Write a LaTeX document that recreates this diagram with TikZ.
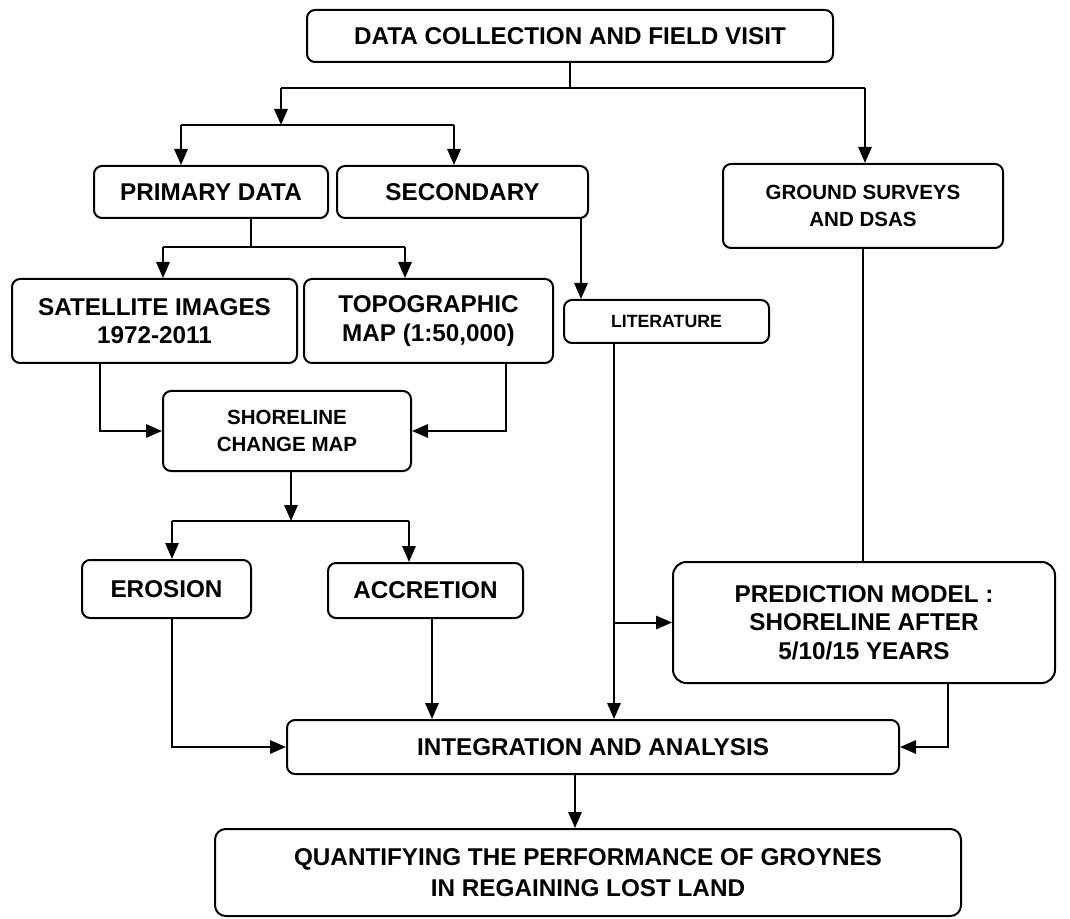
\documentclass[tikz,border=0pt]{standalone}
\usepackage{fontspec}
\setmainfont{Liberation Sans}
\usepackage{tikz}
\usetikzlibrary{arrows.meta}

\begin{document}
\begin{tikzpicture}[x=0.75pt,y=-0.75pt,->,>={Triangle[length=12pt,width=10pt]},line width=1.5pt,
		main node/.style={rectangle,rounded corners=6pt,draw,align=center,inner sep=0pt,font=\fontsize{18.2}{21.5}\selectfont\bfseries},
		small node/.style={main node,font=\fontsize{15.4}{20}\selectfont\bfseries}]
		
		\useasboundingbox (0,0) rectangle (1070,919);
		
		\node[main node, minimum width=394.5pt, minimum height=39pt] (data) at (570,36) {DATA COLLECTION AND FIELD VISIT};
		\node[main node, minimum width=175.5pt, minimum height=39pt] (prim) at (211,192) {PRIMARY DATA};
		\node[main node, minimum width=188.25pt, minimum height=39pt] (sec) at (462.5,192) {SECONDARY};
		\node[small node, minimum width=210pt, minimum height=63pt] (ground) at (863,206) {GROUND SURVEYS\\AND DSAS};
		\node[main node, minimum width=213.75pt, minimum height=63pt] (sat) at (154.5,321) {SATELLITE IMAGES\\1972-2011};
		\node[main node, minimum width=186.75pt, minimum height=63pt] (topo) at (428.5,321) {TOPOGRAPHIC\\MAP (1:50,000)};
		\node[main node, minimum width=153.75pt, minimum height=32.25pt, font=\fontsize{13.3}{16}\selectfont\bfseries] (lit) at (666.5,321.5) {LITERATURE};
		\node[small node, minimum width=186pt, minimum height=60pt] (shore) at (287,431) {SHORELINE\\CHANGE MAP};
		\node[main node, minimum width=126.75pt, minimum height=43.5pt] (eros) at (166.5,589) {EROSION};
		\node[main node, minimum width=146.25pt, minimum height=41.25pt] (accr) at (425.5,590.5) {ACCRETION};
		\node[main node, rounded corners=10pt, minimum width=286.5pt, minimum height=90.75pt] (pred) at (864,622.5) {PREDICTION MODEL :\\SHORELINE AFTER\\5/10/15 YEARS};
		\node[main node, minimum width=459pt, minimum height=40.5pt] (integ) at (593,747) {INTEGRATION AND ANALYSIS};
		\node[main node, rounded corners=8pt, minimum width=559.5pt, minimum height=65.25pt, font=\fontsize{18.2}{23.5}\selectfont\bfseries] (final) at (588,872.5) {QUANTIFYING THE PERFORMANCE OF GROYNES\\IN REGAINING LOST LAND};
		
		% split below the top box
		\coordinate (j0) at (571,88);
		\coordinate (j1) at (281,88);
		\coordinate (j2) at (865,88);
		\coordinate (b0) at (281,125);
		\coordinate (b1) at (181,125);
		\coordinate (b2) at (454,125);
		\draw[-] (data.south) -- (data.south |- j0);
		\draw[-] (j1) -- (j2);
		\draw (j1) -- (b0);
		\draw (j2) -- (j2 |- ground.north);
		\draw[-] (b1) -- (b2);
		\draw (b1) -- (b1 |- prim.north);
		\draw (b2) -- (b2 |- sec.north);
		
		% primary data
		\coordinate (p0) at (251,247);
		\coordinate (p1) at (163,247);
		\coordinate (p2) at (405,247);
		\draw[-] (p0 |- prim.south) -- (p0);
		\draw[-] (p1) -- (p2);
		\draw (p1) -- (p1 |- sat.north);
		\draw (p2) -- (p2 |- topo.north);
		
		% secondary and literature
		\coordinate (s0) at (581,0);
		\coordinate (l0) at (614,0);
		\draw (s0 |- sec.south) -- (s0 |- lit.north);
		\draw (l0 |- lit.south) -- (l0 |- integ.north);
		\draw (l0 |- pred.west) -- (pred.west);
		\draw[-] (ground.south) -- (ground.south |- pred.north);
		
		% shoreline change map
		\coordinate (a0) at (100,0);
		\coordinate (a1) at (506,0);
		\draw (a0 |- sat.south) |- (shore.west);
		\draw (a1 |- topo.south) |- (shore.east);
		\coordinate (c0) at (291,521);
		\coordinate (c1) at (172,521);
		\coordinate (c2) at (409,521);
		\draw (c0 |- shore.south) -- (c0);
		\draw[-] (c1) -- (c2);
		\draw (c1) -- (c1 |- eros.north);
		\draw (c2) -- (c2 |- accr.north);
		
		% into integration
		\coordinate (d0) at (432,0);
		\coordinate (d1) at (948,0);
		\coordinate (d2) at (575,0);
		\draw (c1 |- eros.south) |- (integ.west);
		\draw (d0 |- accr.south) -- (d0 |- integ.north);
		\draw (d1 |- pred.south) |- (integ.east);
		\draw (d2 |- integ.south) -- (d2 |- final.north);
\end{tikzpicture}
\end{document}
